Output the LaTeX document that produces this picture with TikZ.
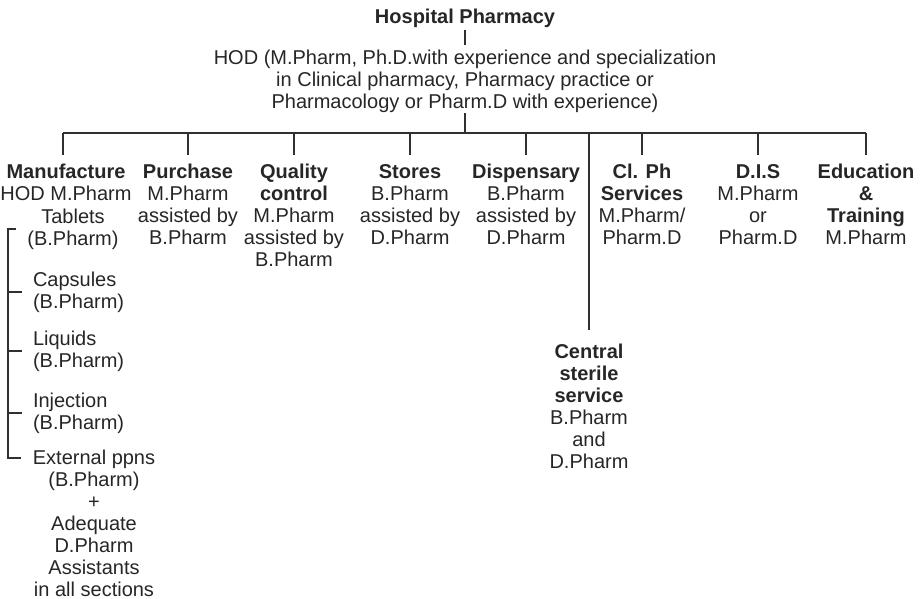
\documentclass[tikz,border=0pt]{standalone}
\usepackage{fontspec}
\setmainfont{Liberation Sans}
\definecolor{ink}{HTML}{262626}
\definecolor{lc}{HTML}{303030}
\newcommand\mystrut{\rule{0pt}{15pt}}
\begin{document}
\begin{tikzpicture}[x=1pt,y=-1pt,
  txt/.style={inner sep=0pt, outer sep=0pt, align=center, anchor=north, text=ink, font=\fontsize{20}{22}\selectfont},
  ltxt/.style={txt, align=left, anchor=north west},
  line/.style={draw=lc, line width=2pt}]
\useasboundingbox (0,0) rectangle (920,599);
% top
\node[txt] (hp) at (465,9) {\mystrut\textbf{Hospital Pharmacy}};
\node[txt] (hod) at (465,50) {\mystrut HOD (M.Pharm, Ph.D.with experience and specialization\\in Clinical pharmacy, Pharmacy practice or\\Pharmacology or Pharm.D with experience)};
\coordinate (bus) at (464,133);
\draw[line, shorten <=2pt, shorten >=5pt] (hp.south) -- (hod.north);
\draw[line] (hod.south) -- (hod.south |- bus);
% columns
\node[txt] (man) at (66,163) {\mystrut\textbf{Manufacture}\\HOD M.Pharm};
\node[txt] (pur) at (188,163) {\mystrut\textbf{Purchase}\\M.Pharm\\assisted by\\B.Pharm};
\node[txt] (qc) at (294,163) {\mystrut\textbf{Quality}\\\textbf{control}\\M.Pharm\\assisted by\\B.Pharm};
\node[txt] (sto) at (410,163) {\mystrut\textbf{Stores}\\B.Pharm\\assisted by\\D.Pharm};
\node[txt] (dis) at (526,163) {\mystrut\textbf{Dispensary}\\B.Pharm\\assisted by\\D.Pharm};
\node[txt] (clp) at (642,163) {\mystrut\textbf{Cl. Ph}\\\textbf{Services}\\M.Pharm/\\Pharm.D};
\node[txt] (dst) at (758,163) {\mystrut\textbf{D.I.S}\\M.Pharm\\or\\Pharm.D};
\node[txt] (edu) at (866,163) {\mystrut\textbf{Education}\\\textbf{\&}\\\textbf{Training}\\M.Pharm};
\node[txt] (css) at (589,343) {\mystrut\textbf{Central}\\\textbf{sterile}\\\textbf{service}\\B.Pharm\\and\\D.Pharm};
% bus and drops
\draw[line] ([xshift=-3pt]man.north |- bus) -- (edu.north |- bus);
\draw[line] ([xshift=-3pt]man.north |- bus) -- ([xshift=-3pt,yshift=8pt]man.north);
\foreach \n in {pur,qc,sto,dis,clp,dst,edu}
  \draw[line] (\n.north |- bus) -- ([yshift=8pt]\n.north);
\draw[line] (css.north |- bus) -- ([yshift=13pt]css.north);
% manufacture sections
\node[txt] (tab) at (73,208) {\mystrut Tablets\\(B.Pharm)};
\node[ltxt] (cap) at (33,271) {\mystrut Capsules\\(B.Pharm)};
\node[ltxt] (liq) at (33,330) {\mystrut Liquids\\(B.Pharm)};
\node[ltxt] (inj) at (33,392) {\mystrut Injection\\(B.Pharm)};
\node[txt] (ext) at (94,449) {\mystrut External ppns\\(B.Pharm)\\+\\Adequate\\D.Pharm\\Assistants\\in all sections};
\coordinate (sp) at (8,0);
\draw[line] ([xshift=-11pt]tab.west) -- (tab.west -| sp) -- ([yshift=-9pt]ext.north west -| sp) -- ([xshift=-12pt,yshift=-9pt]ext.north west);
\foreach \n in {cap,liq,inj}
  \draw[line] (\n.west -| sp) -- ([xshift=-11pt]\n.west);
\end{tikzpicture}
\end{document}
